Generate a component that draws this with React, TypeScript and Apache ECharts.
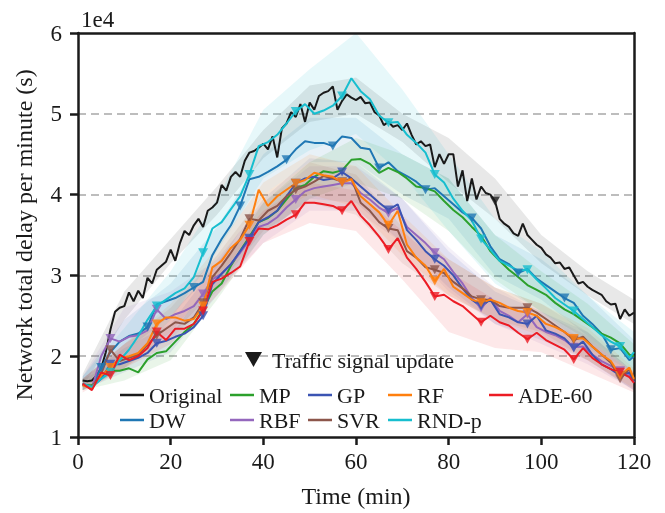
import React, { useEffect, useRef } from "react";
import * as echarts from "echarts";

// time grids (minutes)
const minutesFine = Array.from({ length: 120 }, (_, i) => i + 1);
const minutesCoarse = [...Array.from({ length: 60 }, (_, i) => 2 * i + 1), 120];

const yTicks = [1, 2, 3, 4, 5, 6];
const xTicks = [0, 20, 40, 60, 80, 100, 120];

// values in units of 1e4 s
const original = [
  1.70, 1.69, 1.70, 1.76, 1.85, 2.05, 2.33, 2.55, 2.60, 2.62,
  2.79, 2.68, 2.81, 2.72, 2.97, 2.90, 3.07, 3.12, 3.17, 3.32,
  3.18, 3.40, 3.55, 3.50, 3.62, 3.70, 3.60, 3.80, 3.84, 3.90,
  4.12, 4.05, 4.22, 4.28, 4.22, 4.42, 4.52, 4.54, 4.58, 4.63,
  4.56, 4.72, 4.46, 4.82, 4.88, 5.02, 4.96, 5.12, 4.90, 5.14,
  5.05, 5.22, 5.26, 5.28, 5.34, 5.05, 5.16, 5.24, 5.20, 5.17,
  5.21, 5.13, 5.14, 5.02, 4.98, 4.86, 4.90, 4.84, 4.86, 4.80,
  4.88, 4.74, 4.62, 4.66, 4.60, 4.62, 4.34, 4.50, 4.38, 4.50,
  4.50, 4.10, 4.30, 3.92, 4.20, 3.94, 4.10, 4.02, 4.00, 3.92,
  3.70, 3.64, 3.60, 3.52, 3.49, 3.64, 3.50, 3.44, 3.38, 3.34,
  3.26, 3.22, 3.15, 3.16, 3.08, 3.10, 3.00, 2.90, 2.92, 2.86,
  2.82, 2.79, 2.76, 2.68, 2.64, 2.65, 2.46, 2.58, 2.50, 2.54,
];
const dw = [
  1.66, 1.62, 1.86, 2.05, 2.18, 2.25, 2.28, 2.36, 2.64, 2.68,
  2.72, 2.78, 2.85, 2.92, 3.25, 3.45, 3.62, 3.86, 4.19, 4.22,
  4.28, 4.35, 4.43, 4.56, 4.66, 4.64, 4.64, 4.60, 4.72, 4.70,
  4.58, 4.56, 4.33, 4.40, 4.29, 4.23, 4.16, 4.06, 4.08, 3.98,
  3.88, 3.78, 3.71, 3.58, 3.36, 3.20, 3.14, 3.03, 3.08, 2.96,
  2.88, 2.80, 2.72, 2.66, 2.50, 2.40, 2.28, 2.08, 2.10, 1.95,
  2.00,
];
const mp = [
  1.64, 1.64, 1.76, 1.82, 1.82, 1.85, 1.80, 1.96, 2.04, 2.06,
  2.18, 2.30, 2.40, 2.58, 2.80, 2.90, 3.12, 3.30, 3.48, 3.66,
  3.71, 3.80, 3.94, 4.08, 4.12, 4.22, 4.29, 4.27, 4.30, 4.43,
  4.44, 4.38, 4.27, 4.33, 4.28, 4.20, 4.10, 4.08, 4.04, 3.92,
  3.81, 3.72, 3.60, 3.49, 3.30, 3.18, 3.07, 2.98, 2.88, 2.82,
  2.76, 2.66, 2.58, 2.52, 2.44, 2.36, 2.28, 2.23, 2.16, 2.02,
  2.00,
];
const rbf = [
  1.65, 1.60, 2.00, 2.22, 2.18, 2.24, 2.26, 2.32, 2.58, 2.46,
  2.52, 2.56, 2.62, 2.77, 2.95, 3.02, 3.14, 3.28, 3.44, 3.60,
  3.64, 3.72, 3.84, 3.94, 4.04, 4.08, 4.10, 4.12, 4.14, 4.14,
  4.02, 3.94, 3.84, 3.77, 3.84, 3.60, 3.50, 3.40, 3.28, 3.20,
  3.04, 2.90, 2.72, 2.60, 2.72, 2.56, 2.50, 2.42, 2.52, 2.36,
  2.30, 2.26, 2.20, 2.11, 2.12, 2.02, 1.94, 1.88, 1.82, 1.76,
  1.68,
];
const gp = [
  1.65, 1.62, 1.72, 1.90, 1.90, 1.94, 1.98, 2.04, 2.16, 2.19,
  2.24, 2.28, 2.36, 2.50, 2.89, 3.02, 3.14, 3.30, 3.46, 3.66,
  3.72, 3.80, 3.98, 4.14, 4.20, 4.22, 4.18, 4.20, 4.28, 4.20,
  4.10, 4.00, 3.90, 3.81, 3.88, 3.56, 3.44, 3.30, 3.20, 3.12,
  3.00, 2.84, 2.70, 2.62, 2.70, 2.52, 2.48, 2.42, 2.40, 2.50,
  2.32, 2.28, 2.22, 2.10, 2.18, 2.02, 1.90, 1.84, 1.76, 1.80,
  1.68,
];
const svr = [
  1.65, 1.62, 1.78, 2.08, 1.94, 1.98, 2.02, 2.14, 2.26, 2.34,
  2.42, 2.40, 2.48, 2.66, 2.98, 3.12, 3.28, 3.45, 3.70, 3.68,
  3.80, 3.86, 3.98, 4.06, 4.10, 4.16, 4.23, 4.20, 4.16, 4.20,
  3.90, 3.80, 3.66, 3.58, 3.56, 3.30, 3.22, 3.10, 3.07, 3.03,
  2.92, 2.84, 2.74, 2.70, 2.70, 2.62, 2.60, 2.60, 2.60, 2.54,
  2.46, 2.38, 2.30, 2.20, 2.24, 2.12, 2.02, 1.92, 1.72, 1.84,
  1.70,
];
const rf = [
  1.64, 1.60, 1.76, 1.86, 1.98, 2.00, 2.04, 2.16, 2.40, 2.48,
  2.48, 2.44, 2.46, 2.62, 3.10, 3.18, 3.34, 3.44, 3.62, 4.06,
  3.86, 3.98, 4.06, 4.14, 4.18, 4.27, 4.24, 4.22, 4.15, 4.19,
  3.98, 3.88, 3.78, 3.62, 3.80, 3.38, 3.22, 3.12, 2.93, 3.08,
  2.86, 2.78, 2.70, 2.66, 2.70, 2.66, 2.60, 2.56, 2.54, 2.50,
  2.40, 2.36, 2.30, 2.22, 2.22, 2.12, 2.02, 1.94, 1.76, 1.86,
  1.72,
];
const rndp = [
  1.66, 1.62, 1.72, 1.80, 1.95, 2.08, 2.25, 2.45, 2.62, 2.70,
  2.78, 2.84, 2.98, 3.28, 3.58, 3.66, 3.82, 3.98, 4.25, 4.60,
  4.65, 4.74, 4.88, 5.03, 5.12, 5.00, 5.04, 5.10, 5.22, 5.44,
  5.28, 5.18, 4.98, 4.89, 4.90, 4.74, 4.64, 4.52, 4.25, 4.15,
  3.95, 3.80, 3.68, 3.45, 3.32, 3.18, 3.12, 3.06, 3.07, 2.95,
  2.84, 2.72, 2.64, 2.56, 2.46, 2.36, 2.26, 2.18, 2.12, 1.98,
  2.05,
];
const ade60 = [
  1.66, 1.58, 1.80, 1.76, 2.02, 1.95, 2.00, 2.10, 2.30, 2.20,
  2.34, 2.34, 2.40, 2.56, 2.92, 2.96, 3.03, 3.11, 3.42, 3.58,
  3.57, 3.62, 3.69, 3.75, 3.90, 3.90, 3.88, 3.86, 3.80, 3.92,
  3.74, 3.62, 3.48, 3.32, 3.46, 3.22, 3.08, 2.92, 2.74, 2.76,
  2.68, 2.62, 2.52, 2.42, 2.50, 2.42, 2.38, 2.29, 2.21, 2.29,
  2.20, 2.14, 2.08, 1.96, 2.10, 1.98, 1.90, 1.84, 1.80, 1.74,
  1.67,
];

// uncertainty bands: [minute, lower, upper]
const bandOriginal = [[1, 1.62, 1.78], [10, 2.45, 2.80], [20, 3.15, 3.45], [30, 3.75, 4.10], [40, 4.45, 4.80], [50, 4.90, 5.35], [60, 5.00, 5.45], [70, 4.65, 5.00], [80, 4.15, 4.70], [90, 3.70, 4.20], [100, 3.15, 3.50], [110, 2.75, 3.05], [120, 2.40, 2.70]];
const bandDw = [[1, 1.58, 1.75], [10, 2.05, 2.45], [20, 2.50, 2.90], [30, 3.10, 3.60], [40, 4.00, 4.50], [50, 4.40, 4.95], [60, 4.40, 4.95], [70, 4.00, 4.50], [80, 3.70, 4.20], [90, 3.00, 3.50], [100, 2.70, 3.20], [110, 2.25, 2.75], [120, 1.80, 2.20]];
const bandMp = [[1, 1.58, 1.72], [10, 1.70, 1.95], [20, 1.95, 2.25], [30, 2.70, 3.05], [40, 3.50, 3.90], [50, 3.95, 4.40], [60, 4.15, 4.70], [70, 3.95, 4.50], [80, 3.55, 4.20], [90, 2.95, 3.50], [100, 2.55, 3.05], [110, 2.20, 2.65], [120, 1.80, 2.15]];
const bandRbf = [[1, 1.58, 1.75], [10, 1.95, 2.60], [20, 2.20, 2.80], [30, 2.80, 3.20], [40, 3.40, 3.90], [50, 3.80, 4.35], [60, 3.80, 4.35], [70, 3.40, 3.95], [80, 2.80, 3.35], [90, 2.40, 2.85], [100, 2.15, 2.55], [110, 1.90, 2.25], [120, 1.58, 1.80]];
const bandGp = [[1, 1.58, 1.72], [10, 1.80, 2.10], [20, 2.05, 2.40], [30, 2.75, 3.15], [40, 3.50, 3.95], [50, 3.95, 4.45], [60, 3.90, 4.40], [70, 3.40, 3.95], [80, 2.85, 3.30], [90, 2.40, 2.80], [100, 2.20, 2.55], [110, 1.95, 2.30], [120, 1.58, 1.80]];
const bandSvr = [[1, 1.58, 1.72], [10, 1.85, 2.15], [20, 2.25, 2.60], [30, 2.85, 3.25], [40, 3.55, 4.00], [50, 3.90, 4.40], [60, 3.75, 4.25], [70, 3.15, 3.60], [80, 2.75, 3.20], [90, 2.45, 2.85], [100, 2.30, 2.65], [110, 1.95, 2.30], [120, 1.58, 1.80]];
const bandRf = [[1, 1.58, 1.72], [10, 1.85, 2.15], [20, 2.30, 2.65], [30, 2.95, 3.35], [40, 3.70, 4.15], [50, 4.00, 4.50], [60, 3.85, 4.35], [70, 3.25, 3.75], [80, 2.75, 3.20], [90, 2.45, 2.85], [100, 2.25, 2.65], [110, 1.95, 2.35], [120, 1.60, 1.85]];
const bandRndp = [[1, 1.58, 1.75], [10, 1.85, 2.35], [20, 2.45, 3.05], [30, 3.30, 3.95], [40, 4.20, 5.05], [50, 4.55, 5.55], [60, 4.75, 6.00], [70, 4.25, 5.30], [80, 3.55, 4.50], [90, 2.90, 3.70], [100, 2.55, 3.30], [110, 2.10, 2.75], [120, 1.80, 2.30]];
const bandAde60 = [[1, 1.55, 1.72], [10, 1.85, 2.15], [20, 2.15, 2.50], [30, 2.75, 3.15], [40, 3.40, 3.80], [50, 3.65, 4.15], [60, 3.55, 4.05], [70, 2.95, 3.55], [80, 2.30, 3.05], [90, 2.10, 2.70], [100, 2.05, 2.45], [110, 1.80, 2.20], [120, 1.55, 1.80]];

// traffic signal update times marked on each curve
const marksOriginal = [90];
const marksDw = [5, 15, 25, 35, 45, 55, 65, 75, 85, 95, 105, 115];
const marksMain = [7, 17, 27, 37, 47, 57, 67, 77, 87, 97, 107, 117];
const marksNone: number[] = [];

const FONT = "Liberation Serif";
const INK = "#1a1a1a";

const defs = [
  { name: "Original", color: "#1a1a1a", t: minutesFine, v: original, band: bandOriginal, marks: marksOriginal },
  { name: "DW", color: "#1f77b4", t: minutesCoarse, v: dw, band: bandDw, marks: marksDw },
  { name: "MP", color: "#2ca02c", t: minutesCoarse, v: mp, band: bandMp, marks: marksNone },
  { name: "RBF", color: "#9467bd", t: minutesCoarse, v: rbf, band: bandRbf, marks: marksMain },
  { name: "GP", color: "#3b54b3", t: minutesCoarse, v: gp, band: bandGp, marks: marksMain },
  { name: "SVR", color: "#8c564b", t: minutesCoarse, v: svr, band: bandSvr, marks: marksMain },
  { name: "RF", color: "#ff7f0e", t: minutesCoarse, v: rf, band: bandRf, marks: marksMain },
  { name: "RND-p", color: "#17becf", t: minutesCoarse, v: rndp, band: bandRndp, marks: marksMain },
  { name: "ADE-60", color: "#ec1c24", t: minutesCoarse, v: ade60, band: bandAde60, marks: marksMain },
];

const legendCols = [["Original", "DW"], ["MP", "RBF"], ["GP", "SVR"], ["RF", "RND-p"], ["ADE-60"]];
const legendLeft = [120, 230, 308, 388, 489];

export default function App() {
  const ref = useRef<HTMLDivElement>(null);
  useEffect(() => {
    if (!ref.current) return;
    const chart = echarts.init(ref.current, undefined, { renderer: "svg" });

    const lineSeries: any[] = [];
    defs.forEach((d) => {
      lineSeries.push({
        type: "line",
        name: d.name,
        data: d.t.map((t, i) => [t, d.v[i]]),
        symbol: "none",
        showSymbol: false,
        silent: true,
        z: 3,
        color: d.color,
        lineStyle: { color: d.color, width: 2 },
      });
      if (d.marks.length) {
        lineSeries.push({
          type: "scatter",
          name: d.name + " update",
          data: d.marks.map((m) => [m, d.v[d.t.indexOf(m)]]),
          symbol: "triangle",
          symbolRotate: 180,
          symbolSize: [10, 9],
          silent: true,
          z: 3,
          itemStyle: { color: d.color },
        });
      }
    });

    chart.setOption({
      animation: false,
      textStyle: { fontFamily: FONT },
      grid: { left: 78, right: 31, top: 33, bottom: 75 },
      xAxis: [
        {
          type: "value",
          min: xTicks[0],
          max: xTicks[xTicks.length - 1],
          interval: 20,
          name: "Time (min)",
          nameLocation: "middle",
          nameGap: 47,
          nameTextStyle: { fontFamily: FONT, fontSize: 24, color: INK },
          axisLine: { show: true, onZero: false, lineStyle: { color: INK, width: 2.5 } },
          axisTick: { show: true, length: 8, lineStyle: { color: INK, width: 2.5 } },
          axisLabel: { fontFamily: FONT, fontSize: 23, color: INK, margin: 13 },
          splitLine: { show: false },
        },
        {
          type: "value",
          position: "top",
          min: 0,
          max: 120,
          axisLine: { show: true, onZero: false, lineStyle: { color: INK, width: 2.5 } },
          axisTick: { show: false },
          axisLabel: { show: false },
          splitLine: { show: false },
        },
      ],
      yAxis: [
        {
          type: "value",
          min: yTicks[0],
          max: yTicks[yTicks.length - 1],
          interval: 1,
          name: "Network total delay per minute (s)",
          nameLocation: "middle",
          nameGap: 42,
          nameTextStyle: { fontFamily: FONT, fontSize: 24, color: INK },
          axisLine: { show: true, onZero: false, lineStyle: { color: INK, width: 2.5 } },
          axisTick: { show: true, length: 8, lineStyle: { color: INK, width: 2.5 } },
          axisLabel: { fontFamily: FONT, fontSize: 23, color: INK, margin: 16 },
          splitLine: {
            show: true,
            showMinLine: false,
            showMaxLine: false,
            lineStyle: { color: "#bdbdbd", width: 2, type: [8, 5] },
          },
        },
        {
          type: "value",
          position: "right",
          min: 1,
          max: 6,
          axisLine: { show: true, onZero: false, lineStyle: { color: INK, width: 2.5 } },
          axisTick: { show: false },
          axisLabel: { show: false },
          splitLine: { show: false },
        },
      ],
      legend: legendCols.map((names, i) => ({
        data: names,
        left: legendLeft[i],
        top: 384,
        orient: "vertical",
        itemGap: 3,
        itemWidth: 24,
        itemHeight: 2.5,
        icon: "rect",
        selectedMode: false,
        padding: 0,
        textStyle: { fontFamily: FONT, fontSize: 22, color: INK, lineHeight: 22 },
      })),
      series: lineSeries,
    });

    // uncertainty bands as polygons placed through the chart's own axis scales
    const toPx = (x: number, y: number) => chart.convertToPixel({ gridIndex: 0 }, [x, y]) as number[];
    const bandGraphics = defs.map((d) => ({
      type: "polygon",
      silent: true,
      z: 0,
      shape: {
        points: [
          ...d.band.map((b) => toPx(b[0], b[2])),
          ...d.band.slice().reverse().map((b) => toPx(b[0], b[1])),
        ],
      },
      style: { fill: d.color, opacity: 0.1 },
    }));

    chart.setOption({
      graphic: [
        ...bandGraphics,
        {
          type: "text",
          x: 81,
          y: 8,
          z: 10,
          style: { text: "1e4", fontFamily: FONT, fontSize: 23, fill: INK },
        },
        {
          type: "polygon",
          z: 10,
          shape: { points: [[245, 352], [262, 352], [253.5, 367]] },
          style: { fill: INK },
        },
        {
          type: "text",
          x: 272,
          y: 360,
          z: 10,
          style: {
            text: "Traffic signal update",
            fontFamily: FONT,
            fontSize: 22,
            fill: INK,
            verticalAlign: "middle",
            align: "left",
          },
        },
      ],
    });

    return () => chart.dispose();
  }, []);

  return <div ref={ref} style={{ position: "fixed", left: 0, top: 0, width: 665, height: 513 }} />;
}
